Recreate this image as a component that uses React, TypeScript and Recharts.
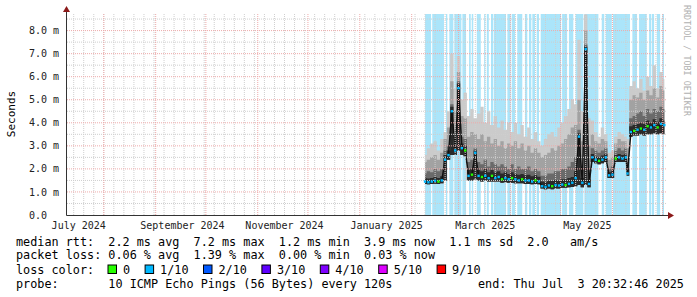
import React from 'react';
import { ComposedChart, Area, Line, XAxis, YAxis, ReferenceArea, ReferenceLine } from 'recharts';

// time axis: days since 2024-07-10 00:00 UTC
const START = Date.UTC(2024, 6, 10);
const dayOf = (y: number, m: number, d: number) => (Date.UTC(y, m - 1, d) - START) / 86400000;
const X_END = 358;
const Y_TOP = 8.72;

const days = [214, 216, 218, 220, 222, 224, 226, 228, 230, 232, 234, 236, 238, 240, 242, 244, 246, 248, 250, 252,
  254, 256, 258, 260, 262, 264, 266, 268, 270, 272, 274, 276, 278, 280, 282, 284, 286, 288, 290, 292,
  294, 296, 298, 300, 302, 304, 306, 308, 310, 312, 314, 316, 318, 320, 322, 324, 326, 328, 330, 332,
  334, 335, 337, 339, 341, 343, 345, 347, 349, 351, 353, 355, 357];
const medRtt = [1.45, 1.42, 1.45, 1.48, 1.45, 1.5, 2.4, 2.6, 4.5, 2.8, 5.5, 2.9, 2.8, 1.7, 1.75, 2.7, 1.7, 1.65, 1.7, 1.6,
  1.7, 1.6, 1.65, 1.55, 1.6, 1.55, 1.6, 1.55, 1.5, 1.55, 1.5, 1.5, 1.45, 1.5, 1.45, 1.25, 1.22, 1.28, 1.25, 1.3,
  1.28, 1.32, 1.3, 1.35, 1.4, 1.6, 3.4, 1.4, 7.2, 1.35, 2.5, 2.4, 2.35, 2.4, 2.5, 1.72, 1.75, 2.45, 2.5, 2.45,
  2.5, 1.8, 3.6, 3.65, 3.7, 3.75, 3.7, 3.85, 3.8, 3.9, 3.8, 3.95, 3.9];
const minRtt = [1.35, 1.33, 1.35, 1.36, 1.35, 1.38, 1.5, 2.4, 2.6, 2.6, 2.8, 2.6, 2.55, 1.5, 1.5, 1.55, 1.5, 1.45, 1.5, 1.45,
  1.45, 1.45, 1.45, 1.4, 1.42, 1.4, 1.4, 1.38, 1.38, 1.38, 1.35, 1.35, 1.33, 1.35, 1.33, 1.15, 1.12, 1.15, 1.12, 1.15,
  1.15, 1.18, 1.18, 1.2, 1.22, 1.25, 1.3, 1.2, 1.3, 1.2, 2.3, 2.25, 2.2, 2.25, 2.3, 1.6, 1.6, 2.3, 2.3, 2.3,
  2.3, 1.7, 3.4, 3.45, 3.45, 3.5, 3.45, 3.5, 3.5, 3.55, 3.5, 3.55, 3.5];
const coreTop = [1.6, 1.58, 1.6, 1.65, 1.6, 1.68, 2.6, 2.8, 4.7, 3.0, 5.7, 3.1, 3.0, 1.95, 2.0, 2.8, 1.95, 1.9, 2.0, 1.85,
  1.95, 1.85, 1.9, 1.8, 1.85, 1.78, 1.85, 1.78, 1.75, 1.78, 1.72, 1.75, 1.68, 1.72, 1.66, 1.45, 1.42, 1.5, 1.47, 1.52,
  1.5, 1.55, 1.55, 1.6, 1.65, 1.9, 3.55, 1.6, 7.3, 1.55, 2.65, 2.55, 2.5, 2.58, 2.65, 1.85, 1.9, 2.6, 2.65, 2.6,
  2.65, 2.0, 3.85, 3.9, 3.95, 4.0, 3.95, 4.1, 4.0, 4.15, 4.05, 4.2, 4.1];
const darkTop = [1.8, 1.9, 1.85, 2.0, 1.9, 2.0, 2.8, 3.0, 4.8, 3.3, 5.8, 3.4, 3.3, 2.3, 2.4, 2.9, 2.3, 2.2, 2.4, 2.1,
  2.3, 2.2, 2.1, 2.2, 2.1, 2.0, 2.2, 2.0, 2.1, 2.0, 2.0, 2.1, 1.9, 2.0, 1.9, 1.7, 1.7, 1.8, 1.8, 1.9,
  1.9, 2.0, 2.0, 2.1, 2.3, 2.5, 3.7, 2.0, 7.4, 2.0, 2.9, 2.8, 2.7, 2.8, 2.9, 2.0, 2.1, 2.8, 2.9, 2.8,
  2.9, 2.3, 4.2, 4.3, 4.4, 4.5, 4.3, 4.6, 4.4, 4.6, 4.5, 4.7, 4.6];
const midTop = [2.3, 2.4, 2.5, 2.6, 2.4, 2.7, 3.3, 3.8, 5.8, 4.5, 6.2, 4.3, 4.2, 3.4, 3.6, 3.5, 3.3, 3.5, 3.2, 3.4,
  3.1, 3.3, 3.0, 3.2, 2.9, 3.1, 3.0, 3.2, 2.9, 3.1, 2.8, 3.0, 2.7, 2.9, 2.7, 2.5, 2.6, 2.7, 2.9, 2.8,
  3.0, 3.1, 3.3, 3.5, 3.8, 3.9, 5.0, 3.2, 8.0, 3.0, 3.5, 3.2, 3.1, 3.3, 3.2, 2.4, 2.5, 3.1, 3.3, 3.2,
  3.2, 2.9, 5.0, 5.2, 5.1, 5.3, 5.0, 5.4, 5.2, 5.5, 5.1, 5.6, 5.4];
const maxRtt = [2.6, 2.9, 3.1, 3.2, 2.8, 3.3, 3.6, 4.5, 7.0, 5.5, 6.9, 5.0, 5.3, 4.3, 4.6, 4.2, 4.4, 4.7, 4.0, 4.5,
  3.9, 4.3, 3.8, 4.1, 3.7, 4.0, 3.6, 4.0, 3.5, 3.9, 3.4, 3.8, 3.3, 3.6, 3.2, 3.0, 3.3, 3.5, 3.6, 3.4,
  3.8, 4.0, 4.3, 4.6, 5.0, 4.8, 7.6, 4.5, 8.7, 4.2, 4.1, 3.6, 3.4, 3.8, 3.5, 2.7, 2.8, 3.4, 3.6, 3.5,
  3.4, 3.3, 5.6, 5.8, 5.5, 5.9, 5.4, 6.0, 5.6, 6.5, 5.5, 6.2, 5.9];
// 0 = no loss (green), 1 = 1/10 loss (blue)
const lossLevel = [1, 1, 1, 1, 0, 1, 1, 1, 1, 1, 1, 1, 0, 1, 0, 1, 1, 0, 1, 1,
  0, 1, 1, 0, 1, 1, 0, 1, 1, 0, 1, 1, 1, 0, 1, 1, 1, 1, 0, 1,
  1, 1, 0, 1, 1, 1, 1, 1, 1, 1, 1, 1, 0, 1, 1, 1, 1, 0, 1, 1,
  1, 1, 1, 0, 1, 0, 1, 0, 1, 1, 0, 1, 1];

// days with packet loss (background)
const lossStart = [214.0, 218.3, 226.5, 228.5, 231.5, 236.3, 240.3, 241.9, 244.9, 249.3, 250.9, 253.4, 255.2, 263.2,
  265.8, 269.1, 273.7, 276.1, 278.1, 280.7, 283.1, 295.9, 300.0, 304.0, 309.2, 319.6, 322.0, 326.3, 337.9,
  341.9, 347.9, 349.5, 352.5, 355.8];
const lossEnd = [217.6, 225.3, 227.3, 230.9, 235.7, 238.5, 241.3, 242.8, 247.3, 250.0, 252.1, 254.8, 262.4, 265.2,
  267.8, 272.1, 275.1, 277.5, 279.7, 282.1, 295.3, 298.9, 302.6, 308.6, 317.6, 321.1, 325.6, 336.5, 340.7,
  346.5, 349.1, 350.9, 354.5, 356.8];

const monthStarts: [number, number][] = [[2024, 8], [2024, 9], [2024, 10], [2024, 11], [2024, 12], [2025, 1],
  [2025, 2], [2025, 3], [2025, 4], [2025, 5], [2025, 6], [2025, 7]];
const labelMonths: [number, number, string][] = [[2024, 7, 'July 2024'], [2024, 9, 'September 2024'],
  [2024, 11, 'November 2024'], [2025, 1, 'January 2025'], [2025, 3, 'March 2025'], [2025, 5, 'May 2025']];
const yTicks = [0, 1, 2, 3, 4, 5, 6, 7, 8];

const lossNames = ['0', '1/10', '2/10', '3/10', '4/10', '5/10', '9/10'];
const lossColors = ['#26ff00', '#00b8ff', '#0059ff', '#5e00ff', '#7e00ff', '#dd00ff', '#ff0000'];

const legendRtt = 'median rtt:  2.2 ms avg  7.2 ms max  1.2 ms min  3.9 ms now  1.1 ms sd  2.0   am/s';
const legendLoss = 'packet loss: 0.06 % avg  1.39 % max  0.00 % min  0.03 % now';
const legendProbe = 'probe:       10 ICMP Echo Pings (56 Bytes) every 120s';
const legendEnd = 'end: Thu Jul  3 20:32:46 2025';

const data = days.map((d, i) => ({
  day: d,
  smokeAll: [minRtt[i], maxRtt[i]],
  smokeMid: [minRtt[i], midTop[i]],
  smokeDark: [minRtt[i], darkTop[i]],
  smokeCore: [minRtt[i], coreTop[i]],
  med: medRtt[i],
  loss: lossLevel[i],
}));

const labelTicks = labelMonths.map(([y, m]) => dayOf(y, m, 1) + 16);
const labelText: Record<string, string> = {};
labelMonths.forEach(([y, m, t]) => { labelText[String(dayOf(y, m, 1) + 16)] = t; });
const majorX = monthStarts.map(([y, m]) => dayOf(y, m, 1));
const minorX: number[] = [];
for (let d = 4; d < X_END; d += 6) minorX.push(d);
const minorY: number[] = [];
for (let v = 0.5; v < Y_TOP; v += 1) minorY.push(v);

const MONO = '"DejaVu Sans Mono", monospace';
const CW = 7.1; // legend char width

const XTick = (p: any) => (
  <text x={p.x} y={228.5} textAnchor="middle" fontFamily={MONO} fontSize={10} fill="#222">
    {labelText[String(p.payload.value)]}
  </text>
);
const YTick = (p: any) => (
  <text x={29} y={p.y + 3.6} textAnchor="start" fontFamily={MONO} fontSize={10} fill="#222">
    {p.payload.value === 0 ? '0.0' : p.payload.value.toFixed(1) + ' m'}
  </text>
);

const MedDot = (p: any) => {
  if (p.cx == null || p.cy == null) return <g key={p.index} />;
  return <rect key={p.index} x={p.cx - 1.2} y={p.cy - 1.2} width={2.4} height={2.4} fill={lossColors[p.payload.loss]} />;
};

export default function App() {
  let lx = 108;
  const legendItems = lossNames.map((n, i) => {
    const x = lx;
    lx = x + 15 + n.length * CW + 15;
    return (
      <g key={n}>
        <rect x={x} y={265} width={8.5} height={8.5} fill={lossColors[i]} stroke="#000" strokeWidth={1} />
        <text x={x + 15} y={273.6} fontFamily={MONO} fontSize={11.8} fill="#000">{n}</text>
      </g>
    );
  });
  return (
    <div style={{ position: 'relative', width: 697, height: 297, background: '#fff' }}>
      <style>{'body{margin:0}'}</style>
      <ComposedChart width={697} height={297} data={data} margin={{ top: 14, right: 31, bottom: 0, left: 0 }}>
        <XAxis type="number" dataKey="day" domain={[0, X_END]} allowDataOverflow ticks={labelTicks}
          tick={<XTick />} axisLine={false} tickLine={false} height={82} interval={0} />
        <YAxis type="number" domain={[0, Y_TOP]} allowDataOverflow ticks={yTicks} tick={<YTick />}
          axisLine={false} tickLine={false} width={67} interval={0} />
        {lossStart.map((s, i) => (
          <ReferenceArea key={'l' + i} x1={s} x2={lossEnd[i]} y1={0} y2={Y_TOP} fill="#abe5fa" fillOpacity={1}
            stroke="none" ifOverflow="hidden" />
        ))}
        <Area dataKey="smokeAll" type="step" stroke="none" fill="#cbcbcb" fillOpacity={1} isAnimationActive={false} />
        <Area dataKey="smokeMid" type="step" stroke="none" fill="#a2a2a2" fillOpacity={1} isAnimationActive={false} />
        <Area dataKey="smokeDark" type="step" stroke="none" fill="#6a6a6a" fillOpacity={1} isAnimationActive={false} />
        <Area dataKey="smokeCore" type="step" stroke="none" fill="#2a2a2a" fillOpacity={1} isAnimationActive={false} />
        <Line dataKey="med" type="linear" stroke="#111" strokeWidth={1.5} dot={MedDot} activeDot={false}
          isAnimationActive={false} />
        {minorX.map((d) => (
          <ReferenceLine key={'mx' + d} x={d} stroke="#cfcfcf" strokeDasharray="1 1" />
        ))}
        {minorY.map((v) => (
          <ReferenceLine key={'my' + v} y={v} stroke="#cfcfcf" strokeDasharray="1 1" />
        ))}
        {majorX.map((d) => (
          <ReferenceLine key={'Mx' + d} x={d} stroke="#eeaaaa" strokeDasharray="1 1" />
        ))}
        {yTicks.filter((v) => v > 0).map((v) => (
          <ReferenceLine key={'My' + v} y={v} stroke="#eeaaaa" strokeDasharray="1 1" />
        ))}
      </ComposedChart>
      <svg width={697} height={297} style={{ position: 'absolute', left: 0, top: 0, pointerEvents: 'none' }}>
        <line x1={66.5} y1={215.5} x2={669} y2={215.5} stroke="#333" strokeWidth={1} />
        <line x1={66.5} y1={215.5} x2={66.5} y2={11} stroke="#333" strokeWidth={1} />
        <polygon points="668,212 674,215.5 668,219" fill="#8b1a1a" />
        <polygon points="63,12 66.5,6 70,12" fill="#8b1a1a" />
        <text x={15} y={114} transform="rotate(-90 15 114)" textAnchor="middle" fontFamily={MONO} fontSize={11}
          fill="#000">Seconds</text>
        <text x={684} y={5} transform="rotate(90 684 5)" fontFamily={MONO} fontSize={8.4} fill="#b0b0b0">
          RRDTOOL / TOBI OETIKER
        </text>
        <g fontFamily={MONO} fontSize={11.8} fill="#000" style={{ whiteSpace: 'pre' }}>
          <text x={16} y={246} xmlSpace="preserve">{legendRtt}</text>
          <text x={16} y={259.4} xmlSpace="preserve">{legendLoss}</text>
          <text x={16} y={273.6} xmlSpace="preserve">loss color:</text>
          <text x={16} y={287.8} xmlSpace="preserve">{legendProbe}</text>
          <text x={478} y={287.8} xmlSpace="preserve">{legendEnd}</text>
        </g>
        {legendItems}
      </svg>
    </div>
  );
}
